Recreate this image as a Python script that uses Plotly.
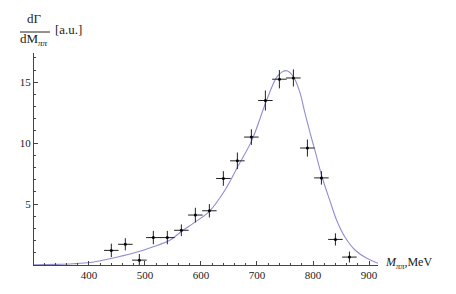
import plotly.graph_objects as go

# data points (M_pipi in MeV, dGamma/dM in a.u.)
mass = [440, 465, 490, 515, 540, 565, 590, 615, 640, 665, 690, 715, 740, 765, 790, 815, 840, 865]
rate = [1.2, 1.7, 0.4, 2.25, 2.25, 2.85, 4.1, 4.45, 7.1, 8.55, 10.5, 13.5, 15.25, 15.35, 9.6, 7.15, 2.1, 0.65]
rate_err = [0.55, 0.5, 0.5, 0.55, 0.55, 0.48, 0.6, 0.55, 0.6, 0.68, 0.64, 0.82, 0.75, 0.7, 0.7, 0.55, 0.5, 0.45]
mass_err = [13] * len(mass)

# fitted curve
curve_m = [302, 340, 372, 402, 431, 455, 480, 515, 545, 565, 592, 616, 643, 666, 691, 717, 735,
           745, 753, 760, 768, 777, 786, 795, 804, 817, 830, 842, 857, 875, 896, 916]
curve_v = [0.02, 0.05, 0.1, 0.2, 0.45, 0.7, 0.98, 1.5, 2.05, 2.75, 3.6, 4.45, 6.15, 8.1, 10.25,
           13.5, 15.4, 15.85, 15.95, 15.75, 15.2, 14.1, 12.4, 10.8, 9.3, 7.1, 5.3, 3.7, 2.3, 1.23,
           0.55, 0.14]

x_ticks = [400, 500, 600, 700, 800, 900]
y_ticks = [5, 10, 15]

font = "Liberation Serif"

fig = go.Figure()
fig.add_trace(go.Scatter(x=curve_m, y=curve_v, mode="lines", line_shape="spline",
                         line=dict(color="#8e8ed2", width=1.1), hoverinfo="skip"))
fig.add_trace(go.Scatter(
    x=mass, y=rate, mode="markers",
    marker=dict(color="black", size=3),
    error_x=dict(type="data", array=mass_err, width=0, thickness=1, color="#222"),
    error_y=dict(type="data", array=rate_err, width=0, thickness=1, color="#222"),
))

fig.update_layout(
    width=448, height=286,
    margin=dict(l=26, r=78, t=45, b=29),
    paper_bgcolor="white", plot_bgcolor="white",
    showlegend=False,
    font=dict(family=font, size=11, color="#222"),
    xaxis=dict(range=[302, 916], tickvals=x_ticks, showgrid=False, zeroline=False,
               showline=True, linecolor="#444", linewidth=1,
               ticks="inside", ticklen=4, tickcolor="#444",
               minor=dict(dtick=20, tick0=0, ticks="inside", ticklen=2, tickcolor="#444"),
               tickfont=dict(family=font, size=11)),
    yaxis=dict(range=[0, 17.4], tickvals=y_ticks, showgrid=False, zeroline=False,
               showline=True, linecolor="#444", linewidth=1,
               ticks="inside", ticklen=4, tickcolor="#444",
               minor=dict(dtick=1, tick0=0, ticks="inside", ticklen=2, tickcolor="#444"),
               tickfont=dict(family=font, size=11)),
)

# y-axis label as a fraction
fig.add_annotation(xref="paper", yref="paper", x=0.0, y=1.0, text="dΓ", showarrow=False,
                   xanchor="center", yanchor="bottom", yshift=25,
                   font=dict(family=font, size=13, color="#222"))
fig.add_shape(type="line", xref="paper", yref="paper", x0=-14/344, x1=16/344,
              y0=1 + 21/212, y1=1 + 21/212, line=dict(color="#222", width=1))
fig.add_annotation(xref="paper", yref="paper", x=0.0, y=1.0, text="dM<sub><i>ππ</i></sub>",
                   showarrow=False, xanchor="center", yanchor="bottom", yshift=3,
                   font=dict(family=font, size=13, color="#222"))
fig.add_annotation(xref="paper", yref="paper", x=19/344, y=1.0, text="[a.u.]",
                   showarrow=False, xanchor="left", yanchor="bottom", yshift=14,
                   font=dict(family=font, size=13, color="#222"))
# x-axis label
fig.add_annotation(xref="paper", yref="paper", x=1.0, y=0.0, text="<i>M<sub>ππ</sub></i>,MeV",
                   showarrow=False, xanchor="left", yanchor="middle", xshift=5, yshift=2,
                   font=dict(family=font, size=12, color="#222"))

fig.write_html("out.html")
